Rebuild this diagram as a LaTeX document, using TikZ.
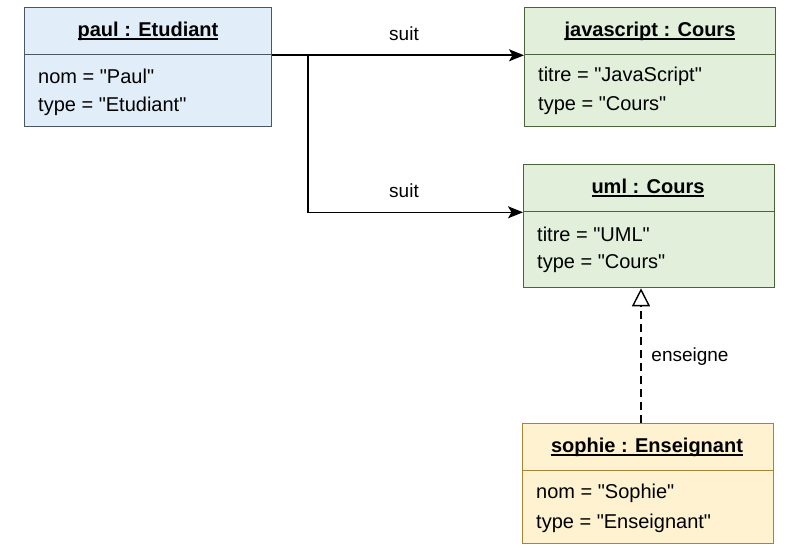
\documentclass[tikz,border=0pt]{standalone}
\usepackage{fontspec}
\setmainfont{Liberation Sans}[Ligatures=TeXOff]
\usetikzlibrary{arrows.meta}
\definecolor{bluef}{HTML}{E2EDFA}
\definecolor{blued}{HTML}{4A5568}
\definecolor{greenf}{HTML}{E1EFDB}
\definecolor{greend}{HTML}{4B6338}
\definecolor{yellowf}{HTML}{FEF2D0}
\definecolor{yellowd}{HTML}{A88530}
\newcommand{\ulbox}[1]{\setbox0\hbox{#1}\leavevmode\rlap{\rule[-3.5pt]{\wd0}{1.5pt}}\box0}
\begin{document}
\begin{tikzpicture}[x=1pt,y=-1pt,
  part/.style={draw, line width=1.3pt, anchor=north west, inner sep=0pt, minimum width=#1},
  hdr/.style={font=\fontsize{20}{22}\selectfont\bfseries, inner sep=0pt},
  attr/.style={font=\fontsize{20}{22}\selectfont, anchor=west, inner sep=0pt},
  lbl/.style={font=\fontsize{19}{22}\selectfont, inner sep=0pt},
  link/.style={line width=1.6pt, -{Stealth[length=15pt,width=12pt,inset=3.5pt]}},
  real/.style={line width=1.4pt, dash pattern=on 8pt off 5pt, -{Triangle[open,length=18pt,width=18pt,fill=white,line width=1.4pt]}}]
\useasboundingbox (0,0) rectangle (800,551);
\fill[white] (0,0) rectangle (800,551);
% paul
\node[part=247pt, minimum height=47pt, fill=bluef, draw=blued] (paulH) at (24,7) {};
\node[part=247pt, minimum height=72pt, fill=bluef, draw=blued] (paulB) at (24,54) {};
\node[hdr] (paulT) at (148,31) {\ulbox{paul : Etudiant}};
\node[attr] (paulA1) at (38,76) {nom = "Paul"};
\node[attr] (paulA2) at (38,106) {type = "Etudiant"};
% javascript
\node[part=251pt, minimum height=47pt, fill=greenf, draw=greend] (jsH) at (524,7) {};
\node[part=251pt, minimum height=72pt, fill=greenf, draw=greend] (jsB) at (524,54) {};
\node[hdr] (jsT) at (650,31) {\ulbox{javascript : Cours}};
\node[attr] (jsA1) at (538,76) {titre = "JavaScript"};
\node[attr] (jsA2) at (538,106) {type = "Cours"};
% uml
\node[part=251pt, minimum height=47pt, fill=greenf, draw=greend] (umlH) at (523,164) {};
\node[part=251pt, minimum height=76pt, fill=greenf, draw=greend] (umlB) at (523,211) {};
\node[hdr] (umlT) at (648,188) {\ulbox{uml : Cours}};
\node[attr] (umlA1) at (537,234) {titre = "UML"};
\node[attr] (umlA2) at (537,264) {type = "Cours"};
% sophie
\node[part=251pt, minimum height=47pt, fill=yellowf, draw=yellowd] (sopH) at (522,423) {};
\node[part=251pt, minimum height=73pt, fill=yellowf, draw=yellowd] (sopB) at (522,470) {};
\node[hdr] (sopT) at (647,447) {\ulbox{sophie : Enseignant}};
\node[attr] (sopA1) at (536,493) {nom = "Sophie"};
\node[attr] (sopA2) at (536,523) {type = "Enseignant"};
% connectors
\coordinate (br) at (308,54);
\draw[link] (paulH.south east) -- (jsH.south west);
\draw[link] (br) |- (umlH.south west);
\node[lbl] (s1) at (404,34) {suit};
\node[lbl] (s2) at (404,191) {suit};
\draw[real] (sopH.north -| 641,0) -- (umlB.south -| 641,0);
\node[lbl] (ens) at (690,357) {enseigne};
\end{tikzpicture}
\end{document}
